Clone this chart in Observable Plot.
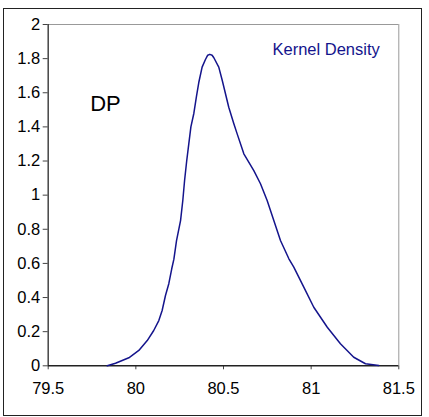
<!DOCTYPE html>
<html>
<head>
<meta charset="utf-8">
<script src="https://cdn.jsdelivr.net/npm/d3@7"></script>
<script src="https://cdn.jsdelivr.net/npm/@observablehq/plot@0.6"></script>
<style>
  html, body { margin: 0; padding: 0; background: #fff; }
  #wrap { position: relative; width: 429px; height: 417px; overflow: hidden; }
  #border { position: absolute; left: 3px; top: 8px; width: 419px; height: 408px; border: 1.5px solid #222; box-sizing: border-box; }
  #chart { position: absolute; left: 0; top: 0; }
  #chart svg g[aria-label="x-axis tick label"] text,
  #chart svg g[aria-label="y-axis tick label"] text { font-size: 16.5px; }
</style>
</head>
<body>
<div id="wrap"><div id="border"></div><div id="chart"></div></div>
<script>
// Kernel density estimate of DP
const xValues = [79.837, 79.884, 79.960, 80.017, 80.065, 80.102, 80.131, 80.150, 80.169, 80.188,
  80.205, 80.217, 80.232, 80.255, 80.268, 80.278, 80.290, 80.302, 80.314, 80.331,
  80.346, 80.359, 80.378, 80.397, 80.410, 80.422, 80.435, 80.445, 80.473, 80.493,
  80.530, 80.559, 80.578, 80.616, 80.673, 80.711, 80.749, 80.787, 80.825, 80.873,
  80.901, 80.958, 81.015, 81.092, 81.167, 81.243, 81.310, 81.386];
const densityValues = [0, 0.015, 0.047, 0.090, 0.148, 0.207, 0.265, 0.324, 0.412, 0.481,
  0.570, 0.625, 0.734, 0.851, 0.970, 1.086, 1.200, 1.300, 1.400, 1.480,
  1.580, 1.660, 1.750, 1.795, 1.820, 1.825, 1.820, 1.805, 1.750, 1.672,
  1.515, 1.418, 1.359, 1.242, 1.144, 1.067, 0.969, 0.851, 0.734, 0.627,
  0.578, 0.461, 0.343, 0.226, 0.129, 0.050, 0.012, 0.002];
const xTicks = [79.5, 80, 80.5, 81, 81.5];
const yTicks = [0, 0.2, 0.4, 0.6, 0.8, 1, 1.2, 1.4, 1.6, 1.8, 2];
const seriesLabel = "Kernel Density";
const panelLabel = "DP";

const data = xValues.map((x, i) => ({x, y: densityValues[i]}));
const navy = "#14148c";
const font = "'Liberation Sans', Arial, sans-serif";

const chart = Plot.plot({
  width: 429,
  height: 417,
  marginLeft: 47.7,
  marginRight: 30.7,
  marginTop: 24,
  marginBottom: 51.7,
  x: {domain: [xTicks[0], xTicks[xTicks.length - 1]]},
  y: {domain: [yTicks[0], yTicks[yTicks.length - 1]]},
  style: {fontFamily: font, fontSize: "16px", background: "transparent", color: "#000", overflow: "visible"},
  marks: [
    Plot.ruleY([yTicks[yTicks.length - 1]], {stroke: "#999", strokeWidth: 1}),
    Plot.ruleX([xTicks[xTicks.length - 1]], {stroke: "#999", strokeWidth: 1}),
    Plot.axisY({ticks: yTicks, tickSize: 5, tickPadding: 3, tickFormat: d => String(d),
      stroke: "#444", fill: "#000", fontSize: 16.5, label: null}),
    Plot.axisX({ticks: xTicks, tickSize: 4, tickPadding: 12, tickFormat: d => String(d),
      stroke: "#444", fill: "#000", fontSize: 16.5, label: null}),
    Plot.ruleX([xTicks[0]], {stroke: "#444", strokeWidth: 1.5}),
    Plot.ruleY([yTicks[0]], {stroke: "#222", strokeWidth: 1.5}),
    Plot.line(data, {x: "x", y: "y", stroke: navy, strokeWidth: 1.5}),
    Plot.text([panelLabel], {frameAnchor: "top-left", textAnchor: "start", lineAnchor: "top",
      dx: 42, dy: 71, fontSize: 22, fill: "#000", fontFamily: font}),
    Plot.text([seriesLabel], {frameAnchor: "top-right", textAnchor: "end", lineAnchor: "top",
      dx: -19, dy: 19, fontSize: 16.5, fill: navy, fontFamily: font})
  ]
});
document.getElementById("chart").appendChild(chart);
</script>
</body>
</html>
